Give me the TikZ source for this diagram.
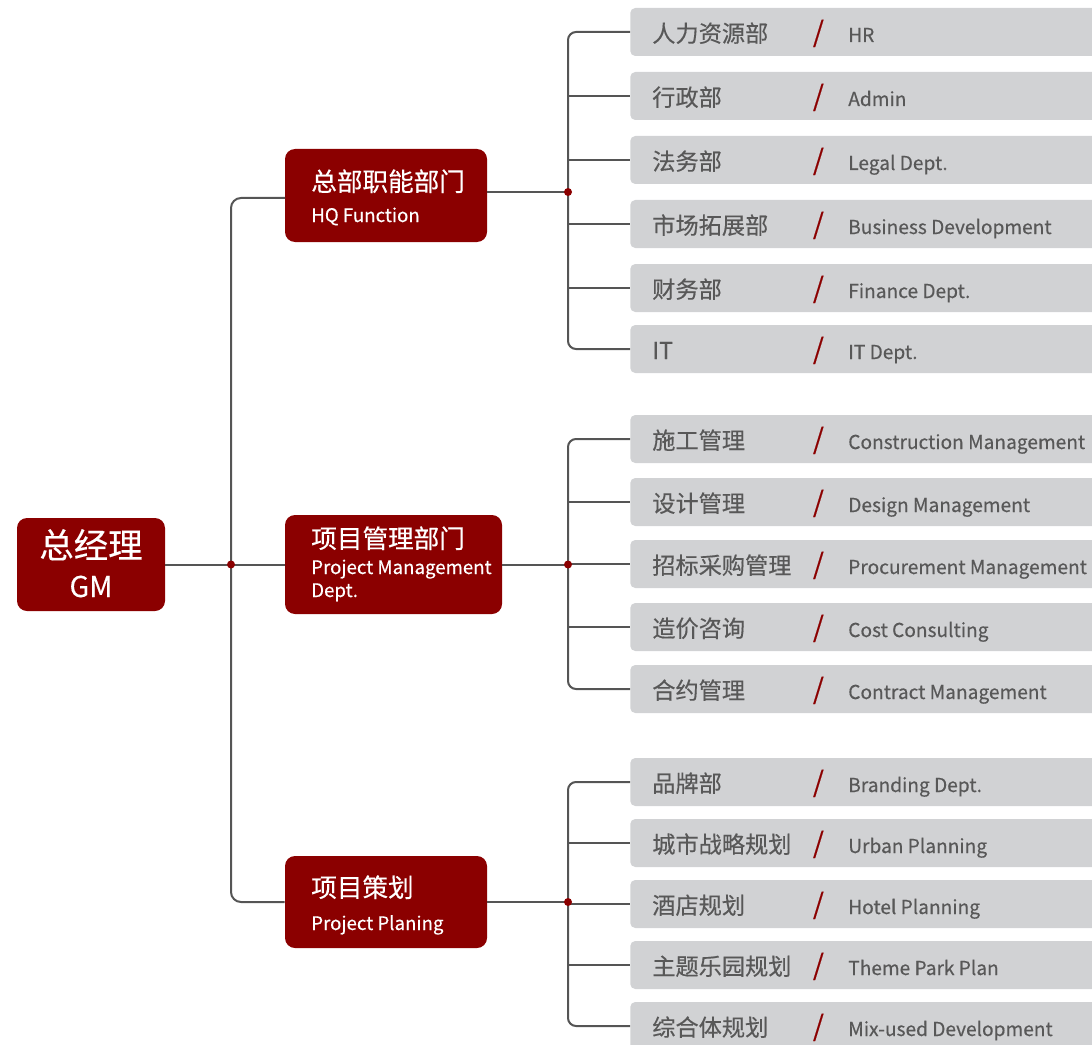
\documentclass[tikz,border=0pt]{standalone}
\usepackage{fontspec}
\setmainfont{Noto Sans CJK SC}[FakeBold=0.35]
\usepackage{xcolor}
\usepackage{tikz}
\usetikzlibrary{positioning,calc}

\definecolor{darkred}{RGB}{139,0,0}
\definecolor{leafgray}{RGB}{209,210,212}
\definecolor{linegray}{RGB}{85,85,85}
\definecolor{textgray}{RGB}{88,88,88}

\begin{document}
\begin{tikzpicture}[x=0.75pt,y=-0.75pt,
    redbox/.style={rectangle, rounded corners=7.5pt, fill=darkred, inner sep=0pt},
    boxcn/.style={anchor=base west, inner sep=0pt, text=white, font=\fontsize{19.2}{22}\selectfont},
    boxen/.style={anchor=base west, inner sep=0pt, text=white, font=\fontsize{14}{17}\selectfont},
    leafbox/.style={rectangle, rounded corners=3.75pt, fill=leafgray, inner sep=0pt,
        minimum width=360pt, minimum height=36pt, anchor=west},
    cntext/.style={anchor=base west, inner sep=0pt, text=textgray, font=\fontsize{17.4}{20}\selectfont},
    entext/.style={anchor=base west, inner sep=0pt, text=textgray, font=\fontsize{14.35}{17}\selectfont},
    slash/.style={anchor=base west, inner sep=0pt, text=darkred, font=\fontsize{21}{24}\selectfont},
    conn/.style={draw=linegray, line width=1.5pt},
    joint/.style={circle, fill=darkred, inner sep=0pt, minimum size=6pt}]

    \useasboundingbox (0,0) rectangle (1092,1045);
    \clip (0,0) rectangle (1092,1045);

    % main boxes
    \node (GM) at (91,564.5) [redbox, minimum width=111pt, minimum height=69.75pt] {};
    \node (GMcn) at (91,558) [anchor=base, inner sep=0pt, text=white, font=\fontsize{25.8}{28}\selectfont] {总经理};
    \node (GMen) at (91,597) [anchor=base, inner sep=0pt, text=white, font=\fontsize{21.5}{24}\selectfont] {GM};

    \node (HQ) at (386,195.5) [redbox, minimum width=151.5pt, minimum height=69.75pt] {};
    \node (HQcn) at (311,191) [boxcn] {总部职能部门};
    \node (HQen) at (311,222) [boxen] {HQ Function};

    \node (PM) at (393.5,564.5) [redbox, minimum width=162.75pt, minimum height=74.25pt] {};
    \node (PMcn) at (311,548) [boxcn] {项目管理部门};
    \node (PMen) at (311,574) [boxen] {Project Management};
    \node (PMen2) at (311,597) [boxen] {Dept.};

    \node (PP) at (386,902) [redbox, minimum width=151.5pt, minimum height=69pt] {};
    \node (PPcn) at (311,897) [boxcn] {项目策划};
    \node (PPen) at (311,930) [boxen] {Project Planing};

    % leaves
    \foreach \n/\y/\cn/\en in {1/32/人力资源部/HR, 2/96/行政部/Admin, 3/160/法务部/Legal Dept.,
        4/224/市场拓展部/Business Development, 5/288/财务部/Finance Dept., 6/349/IT/IT Dept.} {
        \node (HQ\n) at (630,\y) [leafbox] {};
        \node (HQ\n cn) at ([xshift=16.5pt,yshift=-7.5pt]HQ\n.west) [cntext] {\cn};
        \node (HQ\n sl) at ([xshift=137pt,yshift=-7.5pt]HQ\n.west) [slash] {/};
        \node (HQ\n en) at ([xshift=163.5pt,yshift=-7.5pt]HQ\n.west) [entext] {\en};
    }
    \foreach \n/\y/\cn/\en in {1/439/施工管理/Construction Management, 2/502/设计管理/Design Management,
        3/564/招标采购管理/Procurement Management, 4/627/造价咨询/Cost Consulting,
        5/689/合约管理/Contract Management} {
        \node (PM\n) at (630,\y) [leafbox] {};
        \node (PM\n cn) at ([xshift=16.5pt,yshift=-7.5pt]PM\n.west) [cntext] {\cn};
        \node (PM\n sl) at ([xshift=137pt,yshift=-7.5pt]PM\n.west) [slash] {/};
        \node (PM\n en) at ([xshift=163.5pt,yshift=-7.5pt]PM\n.west) [entext] {\en};
    }
    \foreach \n/\y/\cn/\en in {1/782/品牌部/Branding Dept., 2/843/城市战略规划/Urban Planning,
        3/904/酒店规划/Hotel Planning, 4/965/主题乐园规划/Theme Park Plan,
        5/1026/综合体规划/Mix-used Development} {
        \node (PP\n) at (630,\y) [leafbox] {};
        \node (PP\n cn) at ([xshift=16.5pt,yshift=-7.5pt]PP\n.west) [cntext] {\cn};
        \node (PP\n sl) at ([xshift=137pt,yshift=-7.5pt]PP\n.west) [slash] {/};
        \node (PP\n en) at ([xshift=163.5pt,yshift=-7.5pt]PP\n.west) [entext] {\en};
    }

    % connectors
    \coordinate (Trunk) at (231,564.5);
    \coordinate (HQIn) at (285,198);
    \coordinate (HQJoint) at (568,192);
    \coordinate (PMJoint) at (568,564.5);
    \coordinate (PPJoint) at (568,902);

    \draw [conn] (GM.east) -- (PM.west);
    \draw [conn, rounded corners=7.5pt] (HQIn) -| (Trunk) |- (PP.west);

    \draw [conn] (HQ.east |- HQJoint) -- (HQJoint);
    \draw [conn, rounded corners=6pt] (HQ1.west) -| (HQJoint) |- (HQ6.west);
    \foreach \n in {2,...,5}
        \draw [conn] (HQJoint |- HQ\n.west) -- (HQ\n.west);

    \draw [conn] (PM.east) -- (PMJoint);
    \draw [conn, rounded corners=6pt] (PM1.west) -| (PMJoint) |- (PM5.west);
    \foreach \n in {2,...,4}
        \draw [conn] (PMJoint |- PM\n.west) -- (PM\n.west);

    \draw [conn] (PP.east) -- (PPJoint);
    \draw [conn, rounded corners=6pt] (PP1.west) -| (PPJoint) |- (PP5.west);
    \foreach \n in {2,...,4}
        \draw [conn] (PPJoint |- PP\n.west) -- (PP\n.west);

    \node (TrunkDot) at (Trunk) [joint] {};
    \node (HQDot) at (HQJoint) [joint] {};
    \node (PMDot) at (PMJoint) [joint] {};
    \node (PPDot) at (PPJoint) [joint] {};
\end{tikzpicture}
\end{document}
